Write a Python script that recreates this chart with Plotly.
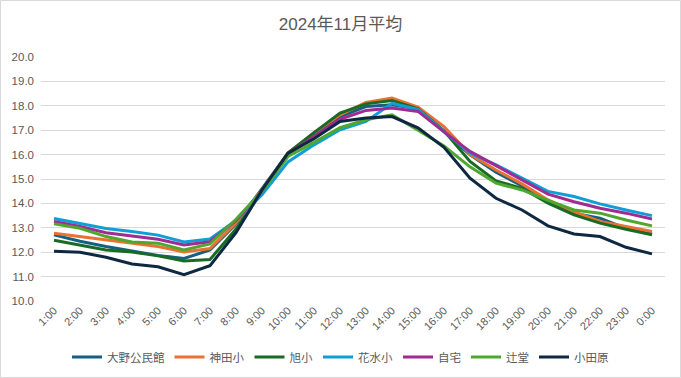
import plotly.graph_objects as go

hours = ["1:00", "2:00", "3:00", "4:00", "5:00", "6:00", "7:00", "8:00", "9:00", "10:00",
         "11:00", "12:00", "13:00", "14:00", "15:00", "16:00", "17:00", "18:00", "19:00",
         "20:00", "21:00", "22:00", "23:00", "0:00"]

oono = [12.71, 12.45, 12.23, 12.04, 11.87, 11.74, 12.09, 13.15, 14.60, 16.06, 16.85, 17.56,
        17.97, 18.04, 17.88, 16.95, 15.99, 15.28, 14.72, 14.07, 13.60, 13.39, 12.98, 12.75]
kanda = [12.78, 12.64, 12.50, 12.39, 12.23, 12.01, 12.15, 13.20, 14.55, 16.06, 16.90, 17.63,
         18.14, 18.32, 17.95, 17.15, 16.00, 15.37, 14.80, 14.14, 13.66, 13.26, 13.05, 12.85]
asahi = [12.49, 12.28, 12.09, 12.01, 11.85, 11.64, 11.70, 12.95, 14.50, 16.06, 16.90, 17.70,
         18.08, 18.22, 17.88, 16.98, 15.72, 14.92, 14.62, 14.01, 13.53, 13.19, 12.94, 12.71]
hanamizu = [13.38, 13.16, 12.97, 12.85, 12.70, 12.42, 12.54, 13.30, 14.35, 15.70, 16.40, 17.02,
            17.36, 18.10, 17.85, 16.95, 16.06, 15.58, 15.03, 14.49, 14.28, 13.98, 13.73, 13.50]
jitaku = [13.26, 13.05, 12.80, 12.68, 12.53, 12.30, 12.43, 13.30, 14.50, 16.02, 16.75, 17.45,
          17.81, 17.91, 17.77, 16.93, 16.13, 15.55, 14.94, 14.38, 14.07, 13.80, 13.60, 13.36]
tsujido = [13.17, 12.98, 12.64, 12.42, 12.37, 12.09, 12.34, 13.35, 14.50, 15.92, 16.50, 17.10,
           17.43, 17.63, 17.00, 16.35, 15.50, 14.83, 14.55, 14.12, 13.73, 13.60, 13.32, 13.08]
odawara = [12.04, 12.00, 11.79, 11.52, 11.40, 11.08, 11.45, 12.80, 14.55, 16.06, 16.65, 17.36,
           17.50, 17.56, 17.10, 16.30, 15.03, 14.21, 13.73, 13.08, 12.75, 12.64, 12.20, 11.93]

series_names = ["大野公民館", "神田小", "旭小", "花水小", "自宅", "辻堂", "小田原"]
series_values = [oono, kanda, asahi, hanamizu, jitaku, tsujido, odawara]
colors = ["#156082", "#E97132", "#196B24", "#0F9ED5", "#A02B93", "#4EA72E", "#0E2841"]

y_ticks = [10, 11, 12, 13, 14, 15, 16, 17, 18, 19, 20]
title_text = "2024年11月平均"

FONT = "Liberation Sans, Noto Sans CJK JP, sans-serif"
TXT = "#595959"

fig = go.Figure()
for name, vals, col in zip(series_names, series_values, colors):
    fig.add_trace(go.Scatter(x=hours, y=vals, name=name, mode="lines",
                             line=dict(color=col, width=3)))

W, H = 681, 378
# plot area in pixels
PX0, PX1 = 41, 665
PY0, PY1 = 57, 301  # top, bottom

fig.update_layout(
    width=W, height=H,
    margin=dict(l=0, r=0, t=0, b=0, autoexpand=False),
    paper_bgcolor="white", plot_bgcolor="white",
    font=dict(family=FONT, size=11, color=TXT),
    title=dict(text=title_text, x=0.5, xanchor="center", xref="paper",
               y=1 - 24 / H, yanchor="middle", yref="paper",
               font=dict(family=FONT, size=17, color=TXT)),
    showlegend=True,
    legend=dict(orientation="h", x=0.5, xanchor="center", y=1 - 357 / H, yanchor="middle",
                font=dict(family=FONT, size=11.5, color=TXT), itemwidth=30,
                bgcolor="rgba(0,0,0,0)"),
    xaxis=dict(type="category", range=[-0.5, len(hours) - 0.5], tickangle=-45,
               domain=[PX0 / W, PX1 / W], automargin=False,
               showgrid=False, showline=False, ticks="", tickfont=dict(size=11, color=TXT)),
    yaxis=dict(range=[10, 20], tickvals=y_ticks, ticktext=[f"{v:.1f}" for v in y_ticks],
               domain=[1 - PY1 / H, 1 - PY0 / H], automargin=False,
               showgrid=True, gridcolor="#D9D9D9", gridwidth=1, zeroline=False,
               showline=False, ticks="", ticklabelstandoff=6,
               tickfont=dict(size=11.5, color=TXT)),
    shapes=[dict(type="rect", xref="paper", yref="paper",
                 x0=0.5 / W, x1=1 - 0.5 / W, y0=0.5 / H, y1=1 - 0.5 / H,
                 line=dict(color="#D9D9D9", width=1), fillcolor="rgba(0,0,0,0)", layer="below")],
)

fig.write_html("out.html", config={"displayModeBar": False},
               post_script="document.body.style.margin='0';document.body.style.padding='0';")
